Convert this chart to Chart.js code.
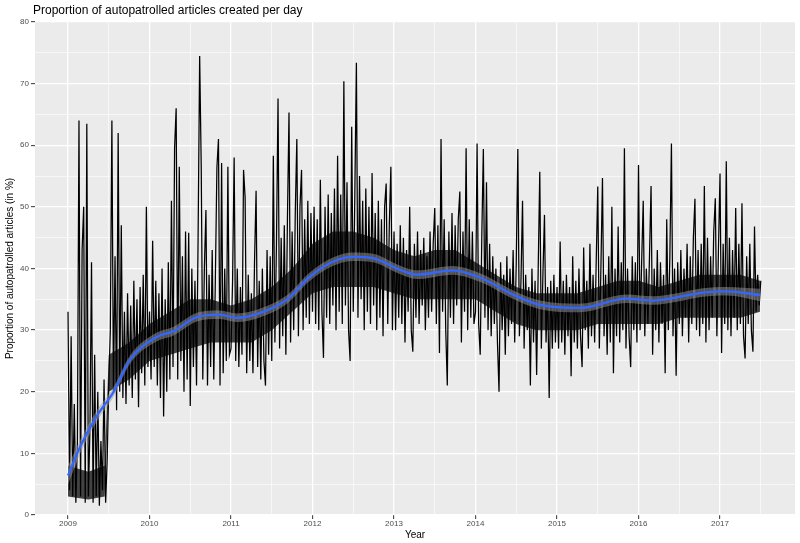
<!DOCTYPE html>
<html>
<head>
<meta charset="utf-8">
<script src="https://cdn.jsdelivr.net/npm/chart.js@4.4.1/dist/chart.umd.min.js"></script>
<style>
  html, body { margin: 0; padding: 0; background: #ffffff; }
  #wrap { width: 800px; height: 543px; position: relative; }
</style>
</head>
<body>
<div id="wrap"><canvas id="graphique"></canvas></div>
<script>
// Valeurs hebdomadaires (en %), une liste par année
const y2009 = [33, 4, 29, 3, 18, 2, 12, 64, 3, 43, 50, 2, 63.5, 3, 14, 41, 2, 26, 3, 20, 1.5, 12, 4, 22, 2, 9,
  21, 30, 64, 20, 42, 17, 62, 20, 47, 19, 33, 18, 36, 21, 34, 19, 38, 22, 35, 17.5, 37, 23, 39, 21, 50, 24];
const y2010 = [33, 22, 44.5, 24, 38, 21, 36, 19, 40, 16, 35, 20, 41, 22, 51, 24, 59.5, 66, 22, 56.5, 25, 42, 20, 46, 22, 45.8,
  17.7, 40, 24, 38, 21, 45, 74.5, 56.5, 22, 40, 49.5, 21, 39, 24, 43, 22, 38, 56.4, 61, 21, 57.1, 23, 40, 25, 56.5, 26];
const y2011 = [27, 38, 58, 25, 40, 24, 37, 26, 56, 51.5, 23, 39, 25, 36, 23, 41, 52.6, 24, 38, 22, 40, 25, 21, 43, 26, 42,
  25, 58.3, 28, 44, 67.6, 27, 45, 29, 47, 26, 48, 65.3, 28, 46, 30, 49, 61, 29, 50, 56, 30, 48, 32, 51, 31, 49];
const y2012 = [33, 50, 31, 48, 30, 54.4, 33, 25.5, 50, 32, 52, 31, 49, 34, 53, 30, 58.3, 33, 52, 31, 70.4, 34, 54, 30, 25, 63,
  33, 52, 73.4, 32, 55, 35, 51, 30, 53, 33, 50, 31, 55.5, 34, 49, 30, 51, 32, 48, 29, 50, 53.8, 31, 47, 56.5, 30];
const y2013 = [46, 30, 44, 32, 47, 31, 45, 28, 43, 33, 50, 30, 26.5, 44, 32, 46, 31, 43, 34, 45, 30, 42, 32, 46, 33, 44,
  49.8, 31, 47, 26.3, 61, 33, 48, 30, 21, 46, 32, 49, 31, 47, 34, 48, 52.5, 28, 46, 33, 59.5, 30, 48, 32, 46, 31];
const y2014 = [33, 60.3, 31, 26, 45, 59.4, 32, 54, 30, 44, 29, 42, 31, 40, 28, 20, 41, 30, 39, 26, 42, 29, 40, 31, 43, 28,
  41, 59.4, 29, 38, 51, 27, 39, 30, 37, 21, 40, 28, 38, 22.7, 40, 55.7, 27, 39, 48.7, 28, 37, 19, 38, 27, 39, 28];
const y2015 = [37, 27, 44.4, 28, 38, 26, 39, 29, 37, 22.5, 42, 28, 38, 27, 40, 29, 24, 43.4, 30, 38, 27, 44, 29, 39, 28, 41,
  53.3, 27, 40, 54.7, 29, 39, 26, 42, 28, 50, 23, 40, 29, 46.8, 28, 41, 30, 59.5, 27, 40, 29, 24, 42, 30, 41, 28];
const y2016 = [56.8, 30, 41, 51, 29, 40, 31, 42, 53.4, 26, 40, 30, 43, 28, 41, 31, 39, 23, 48, 30, 42, 60.3, 29, 40, 22.6, 41,
  31, 43, 29, 40, 32, 44, 28, 42, 31, 45, 51.3, 30, 43, 29, 44, 31, 53.4, 28, 45, 30, 42, 32, 46, 51.4, 29, 43];
const y2017 = [55.4, 26.3, 44, 31, 57.4, 30, 45, 29, 43, 32, 49.8, 30, 44, 31, 50.6, 29, 25.4, 42, 31, 44, 30, 26.5, 46.8, 33, 39, 34, 38];

const anneeDebut = 2009;
const semainesParAn = 52;

// Zone sombre (superposition des valeurs quotidiennes), lue par trimestre
const coeurAnnees = [2009.0, 2009.25, 2009.45, 2009.5, 2009.75, 2010.0, 2010.25, 2010.5, 2010.75, 2011.0, 2011.25, 2011.5,
  2011.75, 2012.0, 2012.25, 2012.5, 2012.75, 2013.0, 2013.25, 2013.5, 2013.75, 2014.0, 2014.25, 2014.5, 2014.75, 2015.0,
  2015.25, 2015.5, 2015.75, 2016.0, 2016.25, 2016.5, 2016.75, 2017.0, 2017.25, 2017.49];
const coeurBas = [3, 2.5, 3, 20, 22, 25, 26, 27, 28, 28, 28, 30, 33, 36, 37, 37, 37, 36, 35, 35, 35, 35, 33, 31, 30, 30,
  30, 31, 31, 31, 31, 32, 32, 32, 32, 33];
const coeurHaut = [8, 7, 8, 26, 28, 31, 33, 35, 35, 34, 35, 37, 40, 44, 46, 46, 45, 43, 42, 43, 43, 41, 39, 37, 36, 36,
  36, 37, 38, 38, 37, 38, 39, 39, 39, 38];

// Courbe lissée (loess) et son intervalle de confiance
const lisseAnnees = [2009.0, 2009.15, 2009.35, 2009.56, 2009.76, 2010.09, 2010.29, 2010.58, 2010.86, 2011.07, 2011.36, 2011.68,
  2011.97, 2012.25, 2012.5, 2012.74, 2013.07, 2013.28, 2013.72, 2014.06, 2014.47, 2014.79, 2015.28, 2015.85, 2016.18, 2016.47,
  2016.79, 2017.08, 2017.49];
const lisseValeurs = [6.4, 11.1, 16.0, 20.0, 25.2, 28.9, 29.8, 32.1, 32.5, 32.0, 32.8, 34.9, 38.7, 41.1, 41.9, 41.7, 39.8, 39.0,
  39.7, 38.5, 35.7, 34.1, 33.6, 35.1, 34.8, 35.3, 36.1, 36.3, 35.7];
const lisseHaut = [7.9, 12.2, 16.9, 20.8, 25.9, 29.6, 30.5, 32.8, 33.2, 32.7, 33.5, 35.6, 39.4, 41.8, 42.6, 42.4, 40.5, 39.7,
  40.4, 39.2, 36.4, 34.8, 34.3, 35.8, 35.5, 36.0, 36.8, 37.0, 36.7];
const lisseBas = [4.9, 10.0, 15.1, 19.2, 24.5, 28.2, 29.1, 31.4, 31.8, 31.3, 32.1, 34.2, 38.0, 40.4, 41.2, 41.0, 39.1, 38.3,
  39.0, 37.8, 35.0, 33.4, 32.9, 34.4, 34.1, 34.6, 35.4, 35.6, 34.7];

// Graduations
const anneesTicks = [2009, 2010, 2011, 2012, 2013, 2014, 2015, 2016, 2017];
const valeursTicks = [0, 10, 20, 30, 40, 50, 60, 70, 80];

const titre = "Proportion of autopatrolled articles created per day";

// Construction des points
const toutesValeurs = [].concat(y2009, y2010, y2011, y2012, y2013, y2014, y2015, y2016, y2017);
const pointsJour = toutesValeurs.map((v, i) => ({ x: anneeDebut + i / semainesParAn, y: v }));
const pointsCoeurBas = coeurAnnees.map((a, i) => ({ x: a, y: coeurBas[i] }));
const pointsCoeurHaut = coeurAnnees.map((a, i) => ({ x: a, y: coeurHaut[i] }));
const pointsLisse = lisseAnnees.map((a, i) => ({ x: a, y: lisseValeurs[i] }));
const pointsHaut = lisseAnnees.map((a, i) => ({ x: a, y: lisseHaut[i] }));
const pointsBas = lisseAnnees.map((a, i) => ({ x: a, y: lisseBas[i] }));

const estMajeur = (v, liste) => liste.some(t => Math.abs(t - v) < 1e-6);

// fond gris du panneau + titre
const fondPanneau = {
  id: "fondPanneau",
  beforeDraw(chart) {
    const { ctx, chartArea } = chart;
    ctx.save();
    ctx.fillStyle = "#EBEBEB";
    ctx.fillRect(chartArea.left, chartArea.top, chartArea.right - chartArea.left, chartArea.bottom - chartArea.top);
    ctx.restore();
  },
  afterDraw(chart) {
    const { ctx } = chart;
    ctx.save();
    ctx.fillStyle = "#000000";
    ctx.font = "12px 'Liberation Sans', Arial, sans-serif";
    ctx.textBaseline = "middle";
    ctx.textAlign = "left";
    ctx.fillText(titre, 33, 11);
    ctx.restore();
  }
};

const config = {
  type: "line",
  data: {
    datasets: [
      {
        label: "bas",
        data: pointsBas,
        borderWidth: 0,
        pointRadius: 0,
        fill: false,
        cubicInterpolationMode: "monotone",
        order: 2
      },
      {
        label: "haut",
        data: pointsHaut,
        borderWidth: 0,
        pointRadius: 0,
        fill: "-1",
        backgroundColor: "rgba(153,153,153,0.5)",
        cubicInterpolationMode: "monotone",
        order: 2
      },
      {
        label: "lisse",
        data: pointsLisse,
        borderColor: "#3366FF",
        borderWidth: 2.3,
        pointRadius: 0,
        fill: false,
        cubicInterpolationMode: "monotone",
        order: 1
      },
      {
        label: "proportion",
        data: pointsJour,
        borderColor: "#000000",
        borderWidth: 1.25,
        pointRadius: 0,
        fill: false,
        tension: 0,
        order: 3
      },
      {
        label: "coeurBas",
        data: pointsCoeurBas,
        borderWidth: 0,
        pointRadius: 0,
        fill: false,
        tension: 0,
        order: 5
      },
      {
        label: "coeurHaut",
        data: pointsCoeurHaut,
        borderWidth: 0,
        pointRadius: 0,
        fill: "-1",
        backgroundColor: "rgba(0,0,0,0.72)",
        tension: 0,
        order: 4
      }
    ]
  },
  options: {
    responsive: true,
    maintainAspectRatio: false,
    devicePixelRatio: 1,
    animation: false,
    layout: { padding: { top: 22, right: 5, left: 0, bottom: 0 } },
    plugins: {
      legend: { display: false },
      tooltip: { enabled: false },
      title: { display: false },
      filler: { propagate: false }
    },
    scales: {
      x: {
        type: "linear",
        min: 2008.595,
        max: 2017.92,
        afterFit(scale) { scale.height = 28; },
        border: { display: false },
        grid: {
          color: "#FFFFFF",
          lineWidth: ctx => estMajeur(ctx.tick.value, anneesTicks) ? 1.3 : 0.6,
          tickColor: ctx => estMajeur(ctx.tick.value, anneesTicks) ? "#333333" : "rgba(0,0,0,0)",
          tickLength: 4,
          tickWidth: 1
        },
        ticks: {
          stepSize: 0.5,
          includeBounds: false,
          autoSkip: false,
          maxRotation: 0,
          padding: 0,
          color: "#4D4D4D",
          font: { family: "'Liberation Sans', Arial, sans-serif", size: 8 },
          callback: v => estMajeur(v, anneesTicks) ? String(v) : ""
        },
        title: {
          display: true,
          text: "Year",
          color: "#000000",
          font: { family: "'Liberation Sans', Arial, sans-serif", size: 10 },
          padding: { top: 0, bottom: 2 }
        }
      },
      y: {
        min: 0,
        max: 80,
        afterFit(scale) { scale.width = 35; },
        border: { display: false },
        grid: {
          color: "#FFFFFF",
          lineWidth: ctx => estMajeur(ctx.tick.value, valeursTicks) ? 1.3 : 0.6,
          tickColor: ctx => estMajeur(ctx.tick.value, valeursTicks) ? "#333333" : "rgba(0,0,0,0)",
          tickLength: 4,
          tickWidth: 1
        },
        ticks: {
          stepSize: 5,
          autoSkip: false,
          padding: 2,
          color: "#4D4D4D",
          font: { family: "'Liberation Sans', Arial, sans-serif", size: 8 },
          callback: v => estMajeur(v, valeursTicks) ? String(v) : ""
        },
        title: {
          display: true,
          text: "Proportion of autopatrolled articles (in %)",
          color: "#000000",
          font: { family: "'Liberation Sans', Arial, sans-serif", size: 10 },
          padding: { top: 4, bottom: 0 }
        }
      }
    }
  },
  plugins: [fondPanneau]
};

new Chart(document.querySelector("#graphique"), config);
</script>
</body>
</html>
